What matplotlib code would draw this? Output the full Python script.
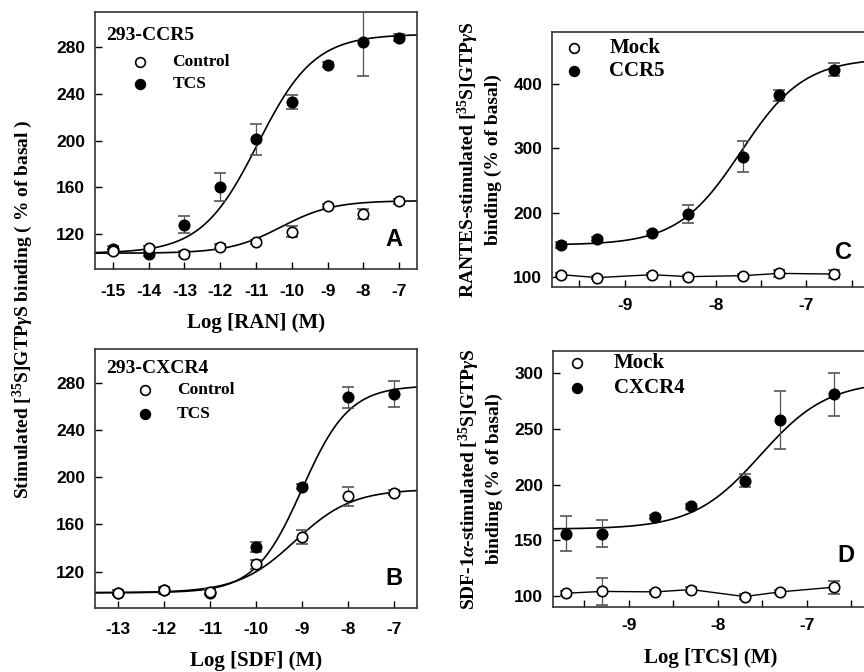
import matplotlib
matplotlib.use("Agg")
import matplotlib.pyplot as plt
import numpy as np

plt.rcParams['mathtext.fontset'] = 'custom'
plt.rcParams['mathtext.rm'] = 'Liberation Serif:bold'
plt.rcParams['mathtext.bf'] = 'Liberation Serif:bold'
plt.rcParams['mathtext.it'] = 'Liberation Serif:bold:italic'
plt.rcParams['axes.unicode_minus'] = False

SERIF = 'Liberation Serif'
SANS = 'Liberation Sans'

# ---- panel A: 293-CCR5, Log [RAN]
a_x = [-15, -14, -13, -12, -11, -10, -9, -8, -7]
a_tcs = [107, 103, 128, 160, 201, 233, 265, 284, 288]
a_tcs_err = [3, 2, 7, 12, 13, 6, 2, 29, 3]
a_ctl = [105, 108, 103, 109, 113, 122, 144, 137, 148]
a_ctl_err = [2, 2, 2, 2, 2, 5, 2, 4, 2]
a_fit_tcs = (103.5, 291, -10.95, 0.55)   # bottom, top, logEC50, hill
a_fit_ctl = (103.5, 148.5, -10.3, 0.6)

# ---- panel B: 293-CXCR4, Log [SDF]
b_x = [-13, -12, -11, -10, -9, -8, -7]
b_tcs = [102, 104, 102, 141, 192, 268, 271]
b_tcs_err = [2, 3, 2, 4, 2, 9, 11]
b_ctl = [102, 104, 103, 126, 149, 184, 187]
b_ctl_err = [2, 2, 2, 4, 6, 8, 2]
b_fit_tcs = (102, 278, -9.0, 0.85)
b_fit_ctl = (102, 190, -9.15, 0.7)

# ---- panels C/D: Log [TCS]
tcs_conc = [2e-10, 5e-10, 2e-9, 5e-9, 2e-8, 5e-8, 2e-7]
c_ccr5 = [150, 159, 168, 198, 287, 382, 422]
c_ccr5_err = [4, 3, 3, 14, 24, 8, 10]
c_mock = [104, 99.5, 104, 101, 102.5, 106, 105]
c_mock_err = [2, 2, 2, 2, 2, 5, 6]
c_fit = (150, 440, -7.72, 1.25)

d_cxcr4 = [156, 156, 171, 180.5, 203.5, 258, 281]
d_cxcr4_err = [16, 12, 2, 2, 6, 26, 19]
d_mock = [102.4, 104, 103.6, 105.7, 99.4, 103.6, 107.8]
d_mock_err = [2, 12, 2, 2, 2, 2, 6]
d_fit = (160, 293, -7.52, 1.15)


def logistic(x, p):
    bottom, top, ec50, hill = p
    return bottom + (top - bottom) / (1 + 10 ** ((ec50 - x) * hill))


def style_axes(ax, xlim, ylim, yticks, xticks, xminor=None, xpad=10):
    ax.set_xlim(*xlim)
    ax.set_ylim(*ylim)
    ax.set_yticks(yticks)
    ax.set_xticks(xticks)
    if xminor is not None:
        ax.set_xticks(xminor, minor=True)
    ax.tick_params(direction='in', length=5, width=1)
    ax.tick_params(axis='x', pad=xpad)
    ax.tick_params(axis='y', pad=7)
    ax.tick_params(which='minor', direction='in', length=5, width=1)
    for lab in ax.get_xticklabels() + ax.get_yticklabels():
        lab.set_fontfamily(SANS)
        lab.set_fontweight('bold')
        lab.set_fontsize(12.5)
    for s in ax.spines.values():
        s.set_linewidth(1.2)
        s.set_color('#333333')


def points(ax, x, y, err, filled):
    ax.errorbar(x, y, yerr=err, fmt='o', ms=7.5, mew=1.2,
                mfc='black' if filled else 'white', mec='black',
                ecolor='#555555', elinewidth=0.9, capsize=4.5, capthick=0.9,
                zorder=4)


def legend_rows(ax, x_marker, x_text, ys, labels, size):
    for y, lab, filled in zip(ys, labels, [False, True]):
        ax.plot([x_marker], [y], 'o', ms=7, mew=1.2, transform=ax.transAxes,
                mfc='black' if filled else 'white', mec='black', clip_on=False)
        ax.text(x_text, y, lab, transform=ax.transAxes, va='center',
                family=SERIF, weight='bold', fontsize=size)


fig = plt.figure(figsize=(8.64, 6.72), dpi=100)

axA = fig.add_axes([0.110, 0.5997, 0.3727, 0.3824])
axB = fig.add_axes([0.110, 0.0952, 0.3727, 0.3854])
axC = fig.add_axes([0.639, 0.573, 0.368, 0.379])
axD = fig.add_axes([0.640, 0.0967, 0.366, 0.381])

# A
xa = np.linspace(-15.5, -6.5, 300)
axA.plot(xa, logistic(xa, a_fit_tcs), color='black', lw=1.2, zorder=2)
axA.plot(xa, logistic(xa, a_fit_ctl), color='black', lw=1.2, zorder=2)
points(axA, a_x, a_tcs, a_tcs_err, True)
points(axA, a_x, a_ctl, a_ctl_err, False)
style_axes(axA, (-15.5, -6.5), (90, 310), [120, 160, 200, 240, 280], a_x, xpad=11)
axA.set_xlabel('Log [RAN] (M)', family=SERIF, weight='bold', fontsize=15, labelpad=10)
axA.text(0.035, 0.91, '293-CCR5', transform=axA.transAxes, family=SERIF,
         weight='bold', fontsize=14, va='center')
legend_rows(axA, 0.14, 0.24, [0.805, 0.72], ['Control', 'TCS'], 12.5)
axA.text(0.955, 0.07, 'A', transform=axA.transAxes, family=SANS, weight='bold',
         fontsize=17, ha='right', va='bottom')

# B
xb = np.linspace(-13.5, -6.5, 300)
axB.plot(xb, logistic(xb, b_fit_tcs), color='black', lw=1.2, zorder=2)
axB.plot(xb, logistic(xb, b_fit_ctl), color='black', lw=1.2, zorder=2)
points(axB, b_x, b_tcs, b_tcs_err, True)
points(axB, b_x, b_ctl, b_ctl_err, False)
style_axes(axB, (-13.5, -6.5), (89, 309), [120, 160, 200, 240, 280], b_x, xpad=10)
axB.set_xlabel('Log [SDF] (M)', family=SERIF, weight='bold', fontsize=15, labelpad=10)
axB.text(0.035, 0.923, '293-CXCR4', transform=axB.transAxes, family=SERIF,
         weight='bold', fontsize=14, va='center')
legend_rows(axB, 0.155, 0.255, [0.842, 0.749], ['Control', 'TCS'], 12.5)
axB.text(0.955, 0.07, 'B', transform=axB.transAxes, family=SANS, weight='bold',
         fontsize=17, ha='right', va='bottom')

# C
lx = np.log10(tcs_conc)
xc = np.linspace(lx[0], -6.3, 300)
axC.plot(xc, logistic(xc, c_fit), color='black', lw=1.2, zorder=2)
axC.plot(lx, c_mock, color='black', lw=1.0, zorder=2)
points(axC, lx, c_ccr5, c_ccr5_err, True)
points(axC, lx, c_mock, c_mock_err, False)
style_axes(axC, (-9.8, -6.3), (85, 480), [100, 200, 300, 400], [-9, -8, -7],
           xminor=[-9.5, -8.5, -7.5, -6.5], xpad=8)
axC.spines['right'].set_visible(False)
axC.set_ylabel('RANTES-stimulated [$^{35}$S]GTP$\\gamma$S\nbinding (% of basal)',
               family=SERIF, weight='bold', fontsize=14, labelpad=8, linespacing=1.3)
legend_rows(axC, 0.069, 0.18, [0.937, 0.847], ['Mock', 'CCR5'], 15)
axC.text(0.943, 0.09, 'C', transform=axC.transAxes, family=SANS, weight='bold',
         fontsize=17, ha='right', va='bottom')

# D
xd = np.linspace(-9.85, -6.3, 300)
axD.plot(xd, logistic(xd, d_fit), color='black', lw=1.2, zorder=2)
axD.plot(lx, d_mock, color='black', lw=1.0, zorder=2)
points(axD, lx, d_cxcr4, d_cxcr4_err, True)
points(axD, lx, d_mock, d_mock_err, False)
style_axes(axD, (-9.85, -6.3), (90, 320), [100, 150, 200, 250, 300], [-9, -8, -7],
           xminor=[-9.5, -8.5, -7.5, -6.5], xpad=8)
axD.spines['right'].set_visible(False)
axD.set_ylabel('SDF-1$\\alpha$-stimulated [$^{35}$S]GTP$\\gamma$S\nbinding (% of basal)',
               family=SERIF, weight='bold', fontsize=14, labelpad=8, linespacing=1.3)
axD.set_xlabel('Log [TCS] (M)', family=SERIF, weight='bold', fontsize=15, labelpad=11)
legend_rows(axD, 0.075, 0.193, [0.953, 0.855], ['Mock', 'CXCR4'], 15)
axD.text(0.955, 0.156, 'D', transform=axD.transAxes, family=SANS, weight='bold',
         fontsize=17, ha='right', va='bottom')

# shared y label for the left column
fig.text(0.026, 0.54, 'Stimulated [$^{35}$S]GTP$\\gamma$S binding ( % of basal )',
         rotation=90, ha='center', va='center', family=SERIF, weight='bold',
         fontsize=14)

fig.savefig('out.png', dpi=100)
